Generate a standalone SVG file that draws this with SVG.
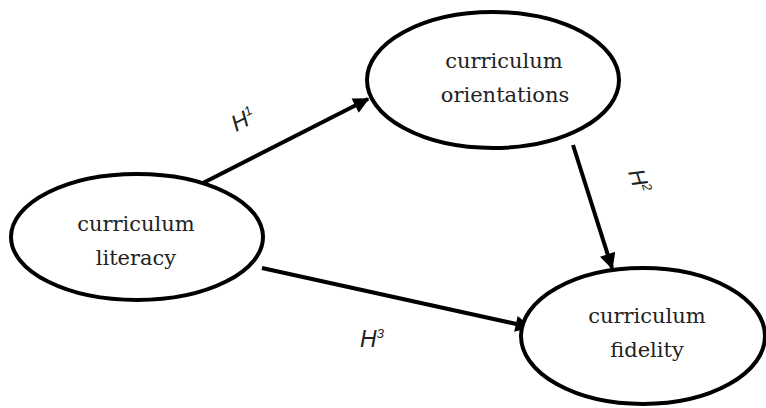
<svg xmlns="http://www.w3.org/2000/svg" width="766" height="408" viewBox="0 0 766 408">
<defs>
<marker id="ah" viewBox="0 0 10 10" refX="9" refY="5" markerWidth="4.5" markerHeight="4" orient="auto" markerUnits="strokeWidth">
<path d="M0,0 L10,5 L0,10 z" fill="#000"/>
</marker>
<style>
.node ellipse{fill:#fff;stroke:#000;stroke-width:4}
.node text{font-family:"DejaVu Serif","Liberation Serif",serif;font-size:21px;fill:#222;text-anchor:middle}
.conn line{stroke:#000;stroke-width:4;marker-end:url(#ah)}
.lab{font-family:"Liberation Sans",Arial,sans-serif;font-style:italic;font-size:23px;fill:#222}
.sup{font-size:13px}
</style>
</defs>
<rect width="766" height="408" fill="#fff"/>
<g class="conn">
<line x1="203" y1="183" x2="368" y2="99"/>
<line x1="573" y1="145" x2="612" y2="268"/>
<line x1="262" y1="268" x2="530" y2="327"/>
</g>
<g id="n1" class="node">
<ellipse cx="137" cy="237" rx="126" ry="63"/>
<text x="136" y="231">curriculum</text>
<text x="136" y="265">literacy</text>
</g>
<g id="n2" class="node">
<ellipse cx="493" cy="80" rx="126" ry="68"/>
<text x="504" y="68">curriculum</text>
<text x="505" y="102">orientations</text>
</g>
<g id="n3" class="node">
<ellipse cx="643" cy="336" rx="122" ry="68"/>
<text x="647" y="323">curriculum</text>
<text x="647" y="357">fidelity</text>
</g>
<g id="labels">
<text class="lab" transform="translate(236,132) rotate(-27)">H<tspan class="sup" dy="-9">1</tspan></text>
<text class="lab" transform="translate(628,172) rotate(72)">H<tspan class="sup" dy="-9">2</tspan></text>
<text class="lab" x="360" y="347">H<tspan class="sup" dy="-9">3</tspan></text>
</g>
</svg>
